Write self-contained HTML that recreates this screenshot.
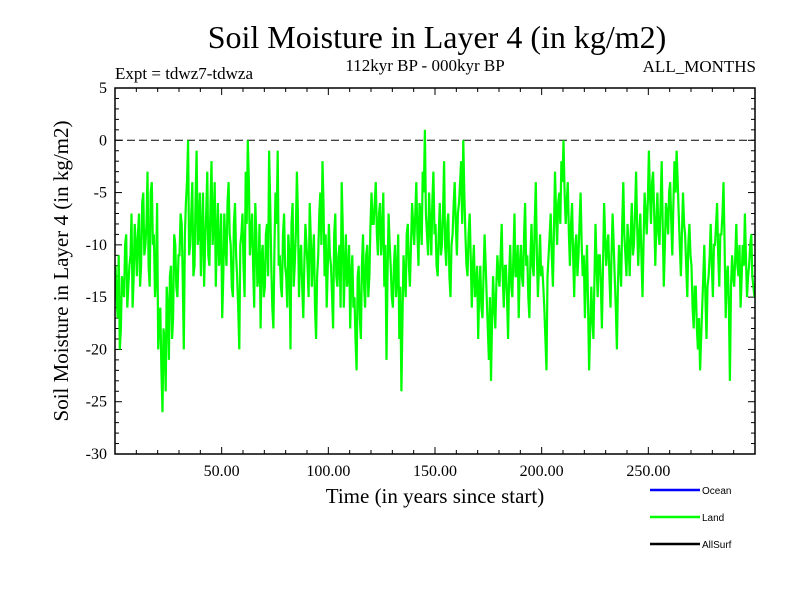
<!DOCTYPE html>
<html><head><meta charset="utf-8"><style>
body{margin:0;background:#fff}
svg{display:block}
text{font-family:"Liberation Serif",serif;fill:#000}
</style></head><body>
<svg id="chart" width="800" height="600" viewBox="0 0 800 600">
<text x="437" y="48" font-size="32" text-anchor="middle">Soil Moisture in Layer 4 (in kg/m2)</text>
<text x="115" y="79" font-size="17">Expt = tdwz7-tdwza</text>
<text x="425" y="71" font-size="17" text-anchor="middle">112kyr BP - 000kyr BP</text>
<text x="756" y="72" font-size="17" text-anchor="end">ALL_MONTHS</text>
<text transform="translate(68,271) rotate(-90)" font-size="21" text-anchor="middle">Soil Moisture in Layer 4 (in kg/m2)</text>
<text x="435" y="503" font-size="21" text-anchor="middle">Time (in years since start)</text>
<g id="ticks"></g>
<g id="series"></g>
<rect x="115" y="88" width="640" height="366" fill="none" stroke="#000" stroke-width="1.5"/>
<g>
<line x1="650" y1="490" x2="700" y2="490" stroke="#0000ff" stroke-width="2.5"/>
<text x="702" y="494" font-size="10" style="font-family:'Liberation Sans',sans-serif">Ocean</text>
<line x1="650" y1="517" x2="700" y2="517" stroke="#00ff00" stroke-width="2.5"/>
<text x="702" y="521" font-size="10" style="font-family:'Liberation Sans',sans-serif">Land</text>
<line x1="650" y1="544" x2="700" y2="544" stroke="#000" stroke-width="2.5"/>
<text x="702" y="548" font-size="10" style="font-family:'Liberation Sans',sans-serif">AllSurf</text>
</g>
</svg>
<script>
const landValuesA = [
-12,-17,-20,-13,-15,-9,-14,-11,-16,-8,
-13,-7,-12,-5,-10,-3,-14,-4,-9,-13,
-20,-16,-26,-19,-14,-21,-12,-17,-10,-15,
-11,-8,-20,-6,0,-10,-4,-12,-1,-9,
-13,-5,-10,-3,-12,-2,-8,-14,-6,-11,
-17,-7,-12,-4,-10,-15,-6,-13,-20,-9,
-12,-3,0,-11,-7,-16,-9,-13,-18,-10,
-14,-8,-1,-12,-18,-5,-1,-11,-15,-7,
-13,-9,-20,-6,-12,-3,-15,-10,-17,-8,
-12,-6,-14,-9,-19,-11,-5,-2,-13,-16,
-8,-12,-18,-7,-14,-10,-4,-16,-9,-13,
-18,-11,-15,-22,-12,-19,-9,-16,-10,-13,
-5,-8,-4,-11,-6,-9,-14,-21,-7,-12,
-16,-10,-13,-19,-24,-11,-15,-8,-14,-6,
-10,-4,-12,-7,-3,1,-9,-5,-11,-3,
-8,-13,-6,-10,-2,-12,-7,-15,-9,-4,
-11,-6,-2,0,-9,-13,-7,-16,-10,-14,
-19,-12,-17,-9,-15,-21,-23,-13,-18,-11,
-14,-8,-16,-12,-19,-10,-15,-7,-13,-17,
-10,-14,-6,-11,-17,-8,-13,-4,-15,-9,
-12,-16,-22,-11,-7,-14,-3,-10,-5,-2,
0,-8,-4,-12,-6,-15,-9,-11,-5,-13,
-17,-10,-22,-14,-19,-8,-15,-11,-18,-6,
-12,-9,-16,-7,-13,-20,-10,-14,-4,-11,
-8,-13,-6,-10,-3,-12,-7,-15,-5,-9,
-1,-8,-3,-12,-5,-10,-2,-14,-6,-9,
-4,-11,-2,-1,-7,-13,-5,-9,-15,-8,
-12,-18,-14,-20,-22,-16,-10,-19,-13,-8,
-15,-10,-6,-14,-9,-4,-17,-12,-23,-11,
-14,-8,-13,-16,-10,-7,-15,-12,-9,-14];
const landValuesB = [
-15,-11,-18,-14,-10,-16,-12,-7,-13,-10,
-9,-14,-6,-11,-8,-12,-5,-10,-15,-6,
-17,-22,-18,-24,-16,-13,-19,-9,-14,-11,
-7,-13,-9,-4,-11,-7,-13,-6,-10,-5,
-9,-14,-7,-11,-6,-10,-4,-9,-12,-7,
-13,-10,-6,-9,-14,-8,-11,-16,-10,-7,
-15,-8,-4,-9,-12,-6,-14,-8,-11,-15,
-9,-13,-6,-16,-10,-8,-12,-14,-9,-12,
-16,-11,-8,-14,-9,-7,-11,-14,-12,-10,
-15,-9,-11,-16,-13,-7,-10,-6,-9,-12,
-11,-15,-9,-13,-11,-16,-8,-12,-14,-10,
-13,-16,-19,-13,-17,-12,-14,-11,-15,-8,
-8,-6,-9,-7,-11,-5,-10,-13,-10,-15,
-12,-15,-9,-14,-17,-13,-9,-12,-10,-8,
-7,-9,-6,-10,-5,-7,-11,-8,-6,-9,
-12,-9,-11,-7,-10,-8,-13,-10,-6,-8,
-7,-4,-8,-5,-12,-9,-11,-12,-15,-12,
-14,-16,-13,-12,-18,-15,-17,-16,-14,-13,
-11,-13,-12,-15,-13,-14,-11,-13,-10,-12,
-13,-9,-12,-15,-11,-12,-8,-11,-12,-13,
-14,-19,-13,-9,-11,-9,-7,-6,-8,-4,
-5,-6,-9,-8,-11,-10,-13,-8,-10,-11,
-13,-16,-18,-17,-13,-12,-11,-14,-12,-9,
-10,-13,-11,-10,-16,-14,-12,-8,-9,-13,
-10,-9,-11,-7,-8,-9,-11,-10,-7,-6,
-5,-4,-7,-8,-9,-6,-8,-10,-7,-5,
-8,-6,-5,-4,-10,-9,-8,-12,-10,-11,
-16,-14,-18,-17,-19,-13,-15,-14,-11,-12,
-10,-8,-11,-9,-7,-10,-13,-16,-14,-13,
-11,-12,-10,-13,-12,-11,-13,-10,-13,-15];
const xTickLabels = ["50.00","100.00","150.00","200.00","250.00"];
const xTickValues = [50,100,150,200,250];
const yTickValues = [5,0,-5,-10,-15,-20,-25,-30];
const referenceValue = [0];

const X0=115,X1=755,Y0=88,Y1=454,XMIN=0,XMAX=300,YMIN=-30,YMAX=5;
const sx=v=>X0+(v-XMIN)/(XMAX-XMIN)*(X1-X0);
const sy=v=>Y1-(v-YMIN)/(YMAX-YMIN)*(Y1-Y0);
const NS="http://www.w3.org/2000/svg";
function mk(tag,attrs,parent){const e=document.createElementNS(NS,tag);for(const k in attrs)e.setAttribute(k,attrs[k]);parent.appendChild(e);return e;}
const ticks=document.getElementById('ticks'), series=document.getElementById('series');

for(let v=10;v<XMAX;v+=10){
  const major=v%50===0, L=major?7:4, x=sx(v);
  const t1=mk('line',{x1:x,y1:Y1,x2:x,y2:Y1-L,stroke:'#000','stroke-width':1},ticks);
  
  
  const t2=mk('line',{x1:x,y1:Y0,x2:x,y2:Y0+L,stroke:'#000','stroke-width':1},ticks);
  
  
}
xTickValues.forEach((v,i)=>{
  const t=mk('text',{x:sx(v),y:Y1+22,'font-size':16,'text-anchor':'middle'},ticks);
  t.textContent=xTickLabels[i];
  
  
});
for(let v=YMIN+1;v<YMAX;v++){
  const major=v%5===0, L=major?7:4, y=sy(v);
  const t1=mk('line',{x1:X0,y1:y,x2:X0+L,y2:y,stroke:'#000','stroke-width':1},ticks);
  
  
  const t2=mk('line',{x1:X1,y1:y,x2:X1-L,y2:y,stroke:'#000','stroke-width':1},ticks);
  
  
}
yTickValues.forEach(v=>{
  const t=mk('text',{x:X0-8,y:sy(v)+5,'font-size':16,'text-anchor':'end'},ticks);
  t.textContent=String(v);
  
  
});
const zl=mk('line',{x1:X0,y1:sy(referenceValue[0]),x2:X1,y2:sy(referenceValue[0]),stroke:'#000','stroke-width':1,'stroke-dasharray':'8,4'},series);


const landValues=[];
landValuesA.forEach((v,i)=>{landValues.push(v);landValues.push(landValuesB[i]);});
const step=(XMAX-XMIN)/landValues.length;
const pts=landValues.map((v,i)=>sx(XMIN+(i+0.5)*step).toFixed(1)+','+sy(v).toFixed(1)).join(' ');
const pl=mk('polyline',{points:pts,fill:'none',stroke:'#00ff00','stroke-width':2.2,'stroke-linejoin':'miter'},series);


</script>
</body></html>
